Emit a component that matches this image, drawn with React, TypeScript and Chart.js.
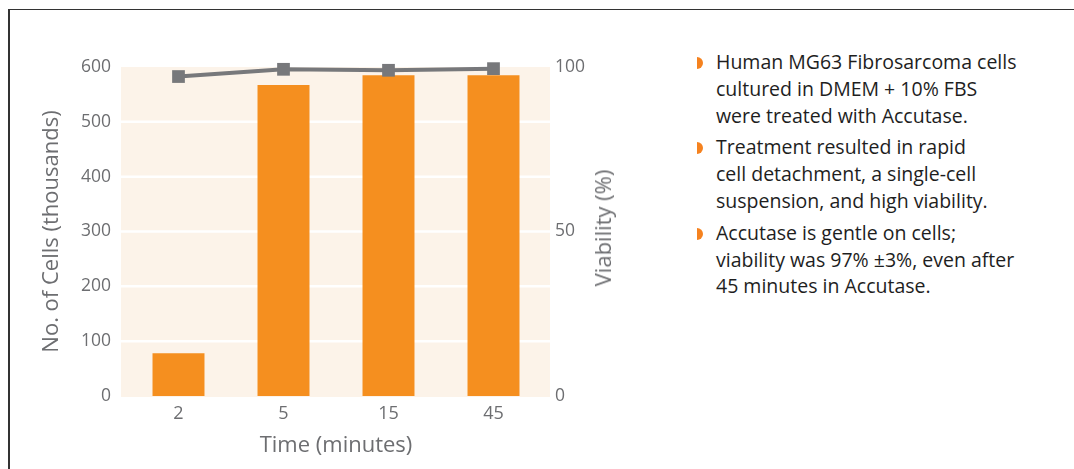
import React, { useEffect, useRef } from "react";
import { Chart, registerables } from "chart.js";

Chart.register(...registerables);

const categories = ["2", "5", "15", "45"];
const cellCounts = [78, 567, 585, 585];
const viability = [97.1, 99.3, 99.0, 99.5];
const leftTicks = [0, 100, 200, 300, 400, 500, 600];
const rightTicks = [0, 50, 100];

const bullets = [
  ["Human MG63 Fibrosarcoma cells", "cultured in DMEM + 10% FBS", "were treated with Accutase."],
  ["Treatment resulted in rapid", "cell detachment, a single-cell", "suspension, and high viability."],
  ["Accutase is gentle on cells;", "viability was 97% \u00b13%, even after", "45 minutes in Accutase."],
];

const FONT = "'Open Sans', 'Noto Sans', sans-serif";
const AXIS_COLOR = "#6D6E71";
const ORANGE = "#F58F1F";
const GRAY = "#77787B";
const CREAM = "#FCF3E9";

const bgPlugin = {
  id: "bgPlugin",
  beforeDatasetsDraw(chart: any) {
    const { ctx, chartArea } = chart;
    const y = chart.scales.y;
    const l = chartArea.left - 5;
    const r = chartArea.right + 4;
    ctx.save();
    ctx.fillStyle = CREAM;
    ctx.fillRect(l, chartArea.top, r - l, chartArea.bottom - chartArea.top + 1);
    ctx.strokeStyle = "#FFFFFF";
    ctx.lineWidth = 2.5;
    y.ticks.forEach((t: any) => {
      if (t.value === 0 || t.value === 600) return;
      const py = y.getPixelForValue(t.value);
      ctx.beginPath();
      ctx.moveTo(l, py);
      ctx.lineTo(r, py);
      ctx.stroke();
    });
    ctx.restore();
  },
};

export default function App() {
  const ref = useRef<HTMLCanvasElement>(null);
  useEffect(() => {
    if (!ref.current) return;
    const chart = new Chart(ref.current, {
      type: "bar",
      data: {
        labels: categories,
        datasets: [
          {
            type: "line",
            data: viability,
            yAxisID: "y1",
            borderColor: GRAY,
            backgroundColor: GRAY,
            borderWidth: 4,
            pointStyle: "rect",
            pointRadius: 9,
            pointBorderWidth: 0,
            pointBackgroundColor: GRAY,
            clip: false as any,
            order: 0,
          } as any,
          {
            type: "bar",
            data: cellCounts,
            yAxisID: "y",
            backgroundColor: ORANGE,
            borderWidth: 0,
            categoryPercentage: 1,
            barPercentage: 0.495,
            order: 1,
          },
        ],
      },
      options: {
        animation: false,
        responsive: false,
        maintainAspectRatio: false,
        layout: { padding: { top: 67, left: 0, right: 0, bottom: 0 } },
        plugins: { legend: { display: false }, tooltip: { enabled: false } },
        scales: {
          x: {
            grid: { display: false, drawTicks: false },
            border: { display: false },
            ticks: { color: AXIS_COLOR, font: { family: FONT, size: 18 }, padding: 7 },
            title: {
              display: true,
              text: "Time (minutes)",
              color: AXIS_COLOR,
              font: { family: FONT, size: 22 },
              padding: { top: 0, bottom: 10 },
            },
            afterFit: (s: any) => {
              s.height = 73;
            },
          },
          y: {
            position: "left",
            min: 0,
            max: 600,
            afterBuildTicks: (s: any) => {
              s.ticks = leftTicks.map((v) => ({ value: v }));
            },
            grid: { display: false, drawTicks: false },
            border: { display: false },
            ticks: { color: AXIS_COLOR, font: { family: FONT, size: 17.5 }, padding: 15 },
            title: {
              display: true,
              text: "No. of Cells (thousands)",
              color: AXIS_COLOR,
              font: { family: FONT, size: 22 },
              padding: { top: 39, bottom: 0 },
            },
            afterFit: (s: any) => {
              s.width = 126;
            },
          },
          y1: {
            position: "right",
            min: 0,
            max: 100,
            afterBuildTicks: (s: any) => {
              s.ticks = rightTicks.map((v) => ({ value: v }));
            },
            grid: { display: false, drawTicks: false },
            border: { display: false },
            ticks: { color: AXIS_COLOR, font: { family: FONT, size: 17.5 }, padding: 9 },
            title: { display: false },
            afterFit: (s: any) => {
              s.width = 134;
            },
          },
        },
      },
      plugins: [bgPlugin],
    });
    return () => chart.destroy();
  }, []);

  return (
    <div style={{ position: "absolute", left: 0, top: 0, width: 1074, height: 469, background: "#fff", overflow: "hidden" }}>
      <div
        style={{
          position: "absolute",
          left: 8,
          top: 9,
          width: 1074,
          height: 469,
          borderTop: "1.5px solid #333",
          borderLeft: "2px solid #333",
        }}
      />
      <canvas ref={ref} width={680} height={469} style={{ position: "absolute", left: 0, top: 0, width: 680, height: 469 }} />
      <div
        style={{
          position: "absolute",
          left: 602,
          top: 228,
          transform: "translate(-50%, -50%) rotate(-90deg)",
          fontFamily: FONT,
          fontSize: 22,
          color: AXIS_COLOR,
          whiteSpace: "nowrap",
          lineHeight: "26px",
        }}
      >
        Viability (%)
      </div>
      <div
        style={{
          position: "absolute",
          left: 716,
          top: 49,
          fontFamily: FONT,
          fontSize: 19.5,
          lineHeight: "26.8px",
          color: "#1E1E1E",
          whiteSpace: "nowrap",
        }}
      >
        {bullets.map((lines, i) => (
          <div key={i} style={{ position: "relative", marginBottom: 5 }}>
            <span
              style={{
                position: "absolute",
                left: -19,
                top: 8,
                width: 6,
                height: 12,
                background: "#F5821F",
                borderRadius: "0 6px 6px 0",
              }}
            />
            {lines.map((l, j) => (
              <div key={j}>{l}</div>
            ))}
          </div>
        ))}
      </div>
    </div>
  );
}
